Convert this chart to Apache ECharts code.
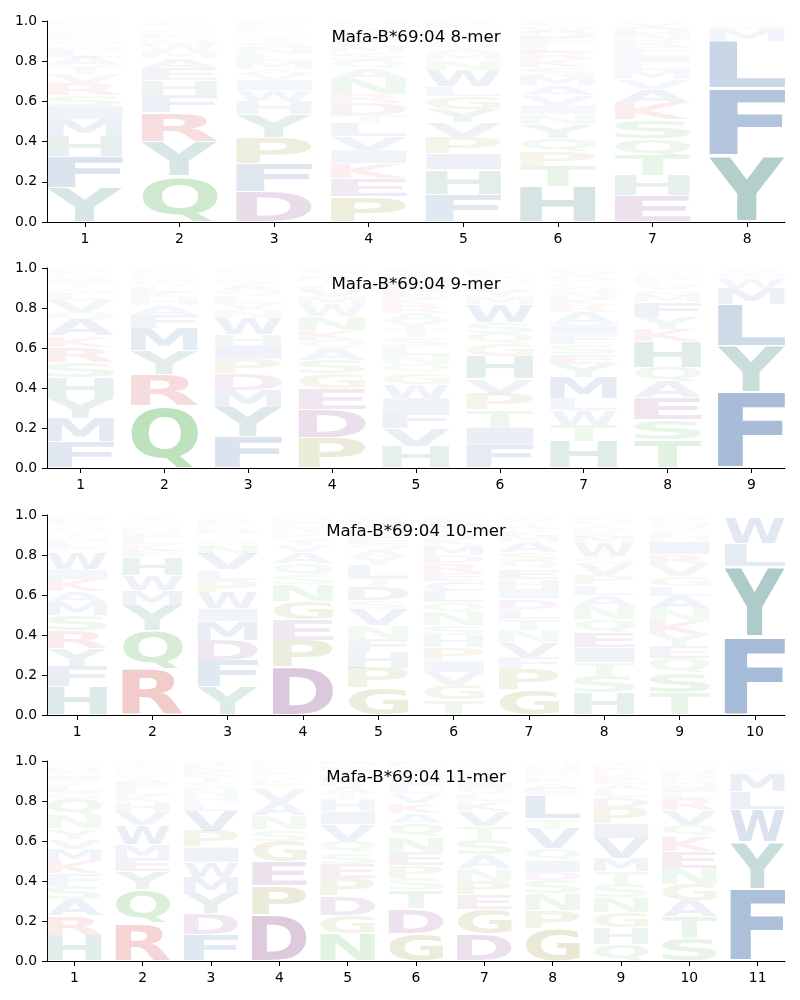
<!DOCTYPE html>
<html>
<head>
<meta charset="utf-8">
<script src="https://cdn.jsdelivr.net/npm/echarts@6/dist/echarts.min.js"></script>
<style>
html,body{margin:0;padding:0;background:#fff;}
#chart{width:800px;height:1000px;}
</style>
</head>
<body>
<div id="chart"></div>
<script>
// ---------- data (letter, probability), stacked bottom -> top ----------
const titles = ['Mafa-B*69:04 8-mer', 'Mafa-B*69:04 9-mer', 'Mafa-B*69:04 10-mer', 'Mafa-B*69:04 11-mer'];
const yTickValues = [0, 0.2, 0.4, 0.6, 0.8, 1.0];

const logo8 = [
  [['Y',.17],['F',.155],['H',.10],['M',.087],['I',.065],['S',.055],['R',.06],['V',.045],['T',.04],['A',.045],['L',.03],['N',.028],['Q',.025],['K',.022],['E',.02],['W',.018],['G',.015],['D',.012],['P',.008]],
  [['Q',.23],['Y',.17],['R',.145],['F',.085],['H',.075],['E',.06],['A',.05],['M',.035],['W',.03],['N',.028],['K',.025],['S',.022],['T',.018],['L',.015],['V',.012]],
  [['D',.15],['F',.14],['P',.13],['Y',.115],['H',.065],['W',.055],['I',.05],['V',.03],['A',.025],['M',.04],['L',.035],['N',.032],['S',.03],['T',.028],['Q',.025],['K',.02],['R',.016],['E',.014]],
  [['P',.125],['E',.09],['K',.075],['I',.067],['V',.067],['L',.067],['T',.04],['D',.06],['R',.045],['N',.08],['A',.05],['Q',.04],['S',.038],['M',.035],['F',.032],['Y',.028],['W',.025],['G',.02],['H',.016]],
  [['F',.135],['H',.125],['I',.08],['P',.08],['V',.075],['Y',.065],['G',.065],['L',.05],['W',.08],['N',.05],['M',.035],['A',.03],['S',.028],['T',.025],['Q',.022],['K',.02],['E',.018],['R',.017]],
  [['H',.175],['T',.1],['P',.075],['Q',.067],['Y',.07],['N',.05],['I',.045],['V',.05],['A',.05],['M',.045],['S',.042],['K',.04],['R',.038],['L',.036],['E',.034],['D',.03],['W',.028],['G',.025]],
  [['E',.13],['H',.1],['T',.1],['Q',.085],['S',.095],['K',.08],['A',.07],['V',.05],['M',.045],['L',.04],['I',.038],['F',.035],['R',.035],['N',.033],['D',.03],['Y',.028],['W',.006]],
  [['Y',.33],['F',.335],['L',.235],['M',.06],['I',.015],['W',.01],['V',.008],['A',.007]]
];

const logo9 = [
  [['F',.13],['M',.12],['Y',.1],['H',.1],['S',.08],['R',.075],['K',.055],['A',.08],['Q',.04],['V',.06],['L',.03],['N',.028],['T',.025],['I',.022],['W',.02],['E',.015],['D',.012],['G',.008]],
  [['Q',.31],['R',.155],['Y',.12],['M',.115],['F',.065],['A',.05],['H',.035],['K',.03],['L',.028],['W',.025],['S',.022],['N',.018],['E',.015],['T',.012]],
  [['F',.155],['Y',.15],['M',.085],['D',.08],['P',.075],['I',.07],['H',.055],['W',.08],['N',.04],['V',.036],['L',.034],['Q',.03],['A',.03],['S',.028],['T',.022],['G',.016],['R',.014]],
  [['P',.15],['D',.14],['E',.105],['G',.075],['S',.07],['A',.06],['Q',.04],['K',.05],['N',.07],['W',.06],['M',.035],['V',.03],['L',.028],['T',.025],['R',.022],['Y',.02],['F',.012],['H',.008]],
  [['H',.11],['V',.09],['F',.08],['I',.07],['W',.07],['G',.055],['Q',.045],['N',.045],['L',.045],['S',.043],['T',.042],['Y',.04],['A',.04],['R',.038],['K',.036],['E',.034],['D',.032],['M',.03],['P',.028],['C',.027]],
  [['F',.115],['I',.09],['T',.085],['P',.08],['V',.075],['H',.115],['G',.06],['Q',.055],['S',.055],['W',.09],['M',.035],['Y',.03],['L',.028],['N',.025],['A',.022],['E',.018],['K',.014],['R',.008]],
  [['H',.135],['T',.08],['W',.072],['L',.06],['M',.107],['Y',.065],['E',.05],['S',.05],['F',.05],['I',.05],['A',.06],['R',.035],['K',.032],['N',.03],['Q',.03],['G',.028],['D',.025],['V',.022],['P',.019]],
  [['T',.14],['S',.1],['E',.11],['A',.08],['Q',.072],['H',.13],['K',.063],['Y',.06],['F',.075],['M',.03],['N',.028],['V',.026],['L',.024],['R',.022],['W',.02],['I',.012],['G',.008]],
  [['F',.38],['Y',.23],['L',.21],['M',.08],['W',.05],['I',.02],['V',.015],['A',.015]]
];

const logo10 = [
  [['H',.145],['F',.1],['Y',.09],['R',.085],['S',.08],['M',.065],['A',.055],['K',.058],['I',.05],['W',.08],['G',.025],['L',.03],['N',.028],['T',.025],['Q',.022],['V',.02],['E',.018],['D',.014],['P',.01]],
  [['R',.23],['Q',.19],['Y',.128],['M',.075],['W',.075],['H',.09],['F',.03],['K',.035],['L',.03],['E',.028],['N',.025],['S',.022],['A',.018],['T',.014],['V',.01]],
  [['Y',.14],['F',.135],['D',.1],['M',.095],['I',.063],['W',.08],['P',.063],['L',.05],['V',.078],['N',.05],['S',.028],['T',.025],['H',.022],['K',.02],['E',.018],['R',.015],['Q',.012],['A',.006]],
  [['D',.24],['P',.135],['E',.1],['G',.093],['N',.083],['S',.05],['Q',.055],['A',.058],['V',.035],['T',.03],['K',.028],['R',.025],['L',.022],['I',.02],['M',.015],['Y',.011]],
  [['G',.135],['P',.1],['H',.078],['F',.067],['N',.067],['V',.08],['S',.045],['D',.065],['T',.045],['L',.065],['Y',.04],['A',.035],['Q',.032],['E',.03],['K',.028],['R',.025],['I',.022],['M',.02],['W',.021]],
  [['T',.075],['G',.075],['V',.065],['I',.057],['P',.065],['H',.06],['S',.05],['N',.065],['Q',.05],['L',.058],['C',.05],['E',.04],['R',.05],['D',.04],['M',.05],['K',.035],['W',.032],['Y',.03],['A',.028],['F',.025]],
  [['G',.125],['P',.105],['F',.058],['V',.075],['N',.06],['T',.058],['L',.05],['D',.05],['I',.05],['H',.05],['E',.05],['Q',.04],['S',.04],['A',.055],['M',.03],['K',.028],['R',.025],['Y',.022],['W',.018],['C',.011]],
  [['H',.11],['S',.083],['T',.07],['I',.075],['E',.075],['Q',.063],['N',.067],['A',.058],['L',.05],['P',.05],['V',.058],['G',.033],['W',.065],['M',.03],['K',.027],['R',.025],['Y',.022],['D',.02],['F',.019]],
  [['T',.11],['S',.1],['Q',.072],['E',.063],['Y',.058],['K',.067],['N',.058],['A',.067],['L',.05],['G',.05],['V',.058],['R',.05],['I',.065],['M',.028],['F',.026],['W',.024],['H',.022],['D',.018],['P',.014]],
  [['F',.39],['Y',.35],['L',.115],['W',.13],['M',.008],['I',.007]]
];

const logo11 = [
  [['H',.13],['R',.095],['A',.083],['S',.068],['F',.06],['K',.063],['M',.062],['V',.05],['Y',.05],['N',.067],['Q',.08],['G',.035],['L',.03],['T',.028],['I',.026],['E',.024],['D',.02],['W',.016],['P',.013]],
  [['R',.187],['Q',.17],['Y',.09],['E',.067],['M',.067],['W',.095],['V',.067],['H',.05],['K',.035],['L',.032],['F',.03],['A',.028],['S',.025],['N',.022],['T',.02],['I',.015]],
  [['F',.133],['D',.105],['Y',.1],['M',.08],['W',.077],['I',.075],['P',.08],['V',.1],['L',.04],['H',.036],['N',.034],['S',.032],['T',.03],['K',.028],['E',.026],['R',.024]],
  [['D',.23],['P',.145],['E',.12],['G',.105],['S',.058],['N',.067],['A',.067],['V',.065],['T',.028],['K',.026],['Q',.024],['L',.022],['I',.018],['R',.015],['M',.01]],
  [['N',.138],['G',.092],['D',.095],['P',.087],['E',.072],['S',.058],['Q',.058],['V',.083],['I',.065],['H',.058],['T',.035],['A',.032],['K',.03],['L',.028],['Y',.025],['R',.022],['M',.022]],
  [['G',.138],['D',.125],['T',.09],['S',.06],['P',.065],['E',.067],['N',.075],['Q',.07],['A',.05],['K',.05],['V',.05],['L',.03],['I',.028],['H',.026],['R',.024],['Y',.02],['M',.018],['F',.014]],
  [['D',.133],['G',.125],['E',.072],['P',.07],['N',.063],['A',.067],['S',.075],['T',.067],['V',.075],['K',.05],['L',.035],['Q',.032],['I',.03],['R',.028],['H',.025],['Y',.022],['M',.018],['F',.013]],
  [['G',.163],['P',.09],['N',.083],['S',.067],['D',.042],['I',.058],['Q',.058],['V',.1],['T',.05],['L',.117],['E',.032],['A',.03],['K',.028],['R',.025],['M',.022],['H',.02],['Y',.015]],
  [['Q',.083],['H',.083],['G',.078],['N',.073],['S',.067],['T',.062],['M',.067],['V',.1],['I',.075],['P',.083],['D',.05],['L',.032],['A',.03],['E',.028],['K',.026],['R',.024],['F',.02],['Y',.019]],
  [['S',.113],['T',.108],['A',.08],['G',.083],['N',.08],['E',.083],['K',.075],['Q',.058],['V',.075],['R',.058],['L',.032],['I',.03],['M',.028],['D',.026],['H',.024],['Y',.02],['F',.015],['P',.012]],
  [['F',.36],['Y',.235],['W',.165],['L',.087],['M',.09],['I',.02],['V',.015],['A',.01],['C',.008],['H',.01]]
];

// ---------- styling ----------
const groupColors = {
  hydrophobic: [26, 79, 152],
  aromaticH: [20, 110, 100],
  polar: [44, 160, 44],
  basic: [200, 30, 30],
  acidic: [109, 26, 109],
  special: [120, 120, 0]
};
const letterGroup = {
  A:'hydrophobic', C:'hydrophobic', F:'hydrophobic', I:'hydrophobic', L:'hydrophobic', M:'hydrophobic', V:'hydrophobic', W:'hydrophobic',
  H:'aromaticH', Y:'aromaticH',
  N:'polar', Q:'polar', S:'polar', T:'polar',
  K:'basic', R:'basic',
  D:'acidic', E:'acidic',
  G:'special', P:'special'
};
function letterColor(ch, p) {
  const c = groupColors[letterGroup[ch]];
  return 'rgba(' + c[0] + ',' + c[1] + ',' + c[2] + ',' + Math.min(1, p).toFixed(3) + ')';
}

const FONT_FAMILY = 'DejaVu Sans';
const GLYPH_SIZE = 100;
const VPAD = 0.05;
const HALF_WIDTH = 0.4;
const measCtx = document.createElement('canvas').getContext('2d');
measCtx.font = 'bold ' + GLYPH_SIZE + 'px "' + FONT_FAMILY + '"';
measCtx.textBaseline = 'middle';
measCtx.textAlign = 'left';
const metricCache = {};
function glyphMetrics(ch) {
  if (!metricCache[ch]) {
    const m = measCtx.measureText(ch);
    metricCache[ch] = { l: m.actualBoundingBoxLeft, r: m.actualBoundingBoxRight, a: m.actualBoundingBoxAscent, d: m.actualBoundingBoxDescent };
  }
  return metricCache[ch];
}

const logos = [logo8, logo9, logo10, logo11];
const gridTops = [21, 268, 515, 761];
const gridHeights = [201, 200, 200, 200];
const TITLE_OFFSET = 8.2;

const option = {
  animation: false,
  backgroundColor: '#ffffff',
  title: [],
  grid: [],
  xAxis: [],
  yAxis: [],
  series: []
};

const axisText = { color: '#000', fontSize: 13.9, fontFamily: FONT_FAMILY };

logos.forEach((logo, i) => {
  const n = logo.length;
  const positions = logo.map((_, j) => j + 1);
  option.grid.push({ left: 47, right: 15, top: gridTops[i], height: gridHeights[i], containLabel: false });
  option.title.push({
    text: titles[i], left: 416, top: gridTops[i] + TITLE_OFFSET, textAlign: 'center', padding: 0,
    textStyle: { color: '#000', fontSize: 16.67, fontWeight: 'normal', fontFamily: FONT_FAMILY }
  });
  option.xAxis.push({
    type: 'value', gridIndex: i, min: 1 - 0.4, max: n + 0.4,
    axisLine: { show: true, onZero: false, lineStyle: { color: '#000', width: 1 } },
    axisTick: { show: true, length: 5, inside: false, customValues: positions, lineStyle: { color: '#000', width: 1 } },
    axisLabel: Object.assign({ show: true, margin: 10, customValues: positions, formatter: v => String(Math.round(v)) }, axisText),
    splitLine: { show: false }
  });
  option.yAxis.push({
    type: 'value', gridIndex: i, min: 0, max: 1, interval: 0.2,
    axisLine: { show: true, lineStyle: { color: '#000', width: 1 } },
    axisTick: { show: true, length: 5, inside: false, lineStyle: { color: '#000', width: 1 } },
    axisLabel: Object.assign({ show: true, margin: 10, formatter: v => v.toFixed(1) }, axisText),
    splitLine: { show: false }
  });

  const data = [];
  const meta = [];
  logo.forEach((col, j) => {
    let acc = 0;
    col.forEach(([ch, p]) => {
      data.push([j + 1, acc, acc + p]);
      meta.push([ch, p]);
      acc += p;
    });
  });

  option.series.push({
    type: 'custom', xAxisIndex: i, yAxisIndex: i, silent: true, clip: false,
    data: data,
    renderItem: function (params, api) {
      const ch = meta[params.dataIndex][0];
      const p = meta[params.dataIndex][1];
      const x = api.value(0), y0 = api.value(1), y1 = api.value(2);
      const a = api.coord([x - HALF_WIDTH, y0]);
      const b = api.coord([x + HALF_WIDTH, y1]);
      const h = a[1] - b[1];
      const pad = h * VPAD / 2;
      const top = b[1] + pad, bottom = a[1] - pad;
      if (bottom - top <= 0.05) return null;
      const m = glyphMetrics(ch);
      const sx = (b[0] - a[0]) / (m.l + m.r);
      const sy = (bottom - top) / (m.a + m.d);
      return {
        type: 'text',
        x: a[0] + m.l * sx,
        y: top + m.a * sy,
        scaleX: sx,
        scaleY: sy,
        style: {
          text: ch,
          fontSize: GLYPH_SIZE, fontWeight: 'bold', fontFamily: FONT_FAMILY,
          fill: letterColor(ch, p),
          align: 'left', verticalAlign: 'middle',
          textAlign: 'left', textVerticalAlign: 'middle'
        }
      };
    }
  });
});

const chart = echarts.init(document.getElementById('chart'), null, { renderer: 'canvas', width: 800, height: 1000 });
chart.setOption(option);
</script>
</body>
</html>
